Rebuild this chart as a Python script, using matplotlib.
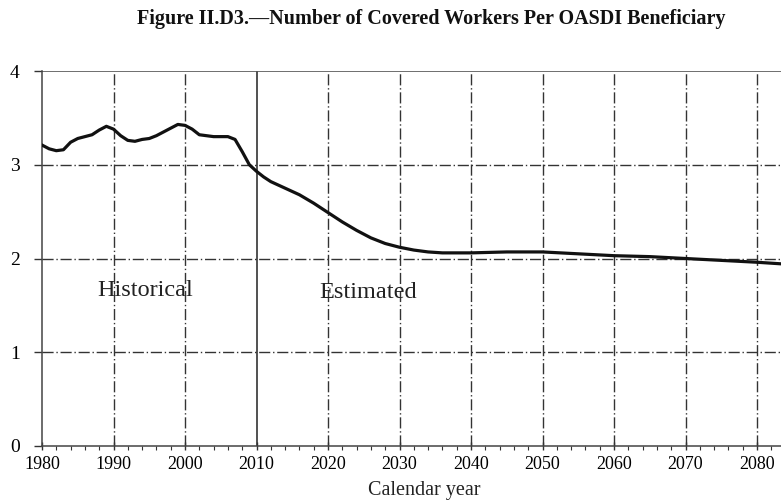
import matplotlib.pyplot as plt
from matplotlib.ticker import MultipleLocator

# datos
years = [1980, 1981, 1982, 1983, 1984, 1985, 1986, 1987, 1988, 1989, 1990,
         1991, 1992, 1993, 1994, 1995, 1996, 1997, 1998, 1999, 2000,
         2001, 2002, 2003, 2004, 2005, 2006, 2007, 2008, 2009, 2010,
         2011, 2012, 2014, 2016, 2018, 2020, 2022, 2024, 2026, 2028, 2030,
         2032, 2034, 2036, 2040, 2045, 2050, 2055, 2060, 2065, 2070,
         2075, 2080, 2084]
ratio = [3.21, 3.17, 3.15, 3.16, 3.24, 3.28, 3.30, 3.32, 3.37, 3.41, 3.38,
         3.31, 3.26, 3.25, 3.27, 3.28, 3.31, 3.35, 3.39, 3.43, 3.42,
         3.38, 3.32, 3.31, 3.30, 3.30, 3.30, 3.27, 3.14, 3.00, 2.93,
         2.87, 2.82, 2.75, 2.68, 2.59, 2.49, 2.39, 2.30, 2.22, 2.16, 2.12,
         2.09, 2.07, 2.06, 2.06, 2.07, 2.07, 2.05, 2.03, 2.02, 2.00,
         1.98, 1.96, 1.94]

x_ticks = list(range(1980, 2090, 10))
y_ticks = [0, 1, 2, 3, 4]

plt.rcParams["font.family"] = ["Liberation Serif", "DejaVu Serif"]

fig = plt.figure(figsize=(7.81, 5.0), dpi=100)
ax = fig.add_axes([42 / 781, 1 - 446 / 500, 739 / 781, 375 / 500])

# rejilla punto-raya
for yv in y_ticks[1:4]:
  ax.axhline(yv, color="#333333", lw=1.0, ls=(0, (8, 2, 1, 2)), zorder=1)
for xv in x_ticks[1:]:
  if xv == 2010:
    ax.axvline(xv, color="#222222", lw=1.1, zorder=1)
  else:
    ax.axvline(xv, color="#333333", lw=1.0, ls=(0, (8, 2, 1, 2)), zorder=1)
ax.axhline(4, color="#555555", lw=1.2, zorder=1)

ax.plot(years, ratio, color="#111111", lw=2.3, zorder=3)

ax.set_xlim(1980, 1980 + 739 / 7.15)
ax.set_ylim(0, 4)
ax.set_xticks(x_ticks)
ax.set_yticks(y_ticks)
ax.xaxis.set_minor_locator(MultipleLocator(2))
ax.tick_params(axis="x", which="major", length=6, width=1, direction="inout",
               labelsize=13, pad=4, color="#333333")
ax.tick_params(axis="x", which="minor", length=3, width=0.8, direction="out",
               color="#333333")
ax.tick_params(axis="y", length=6, width=1, direction="out", labelsize=14,
               pad=10, color="#333333")
for s in ["top", "right"]:
  ax.spines[s].set_visible(False)
for s in ["left", "bottom"]:
  ax.spines[s].set_color("#444444")
  ax.spines[s].set_linewidth(1.1)

ax.text(1994.4, 1.66, "Historical", fontsize=17.5, ha="center", va="center",
        color="#222222")
ax.text(2025.6, 1.64, "Estimated", fontsize=17.5, ha="center", va="center",
        color="#222222")

fig.text(431 / 781, 1 - 19 / 500, "Figure II.D3.\u2014Number of Covered Workers Per OASDI Beneficiary",
         fontsize=14.5, fontweight="bold", ha="center", va="center", color="#111111")
fig.text(424 / 781, 1 - 491 / 500, "Calendar year", fontsize=14.5, ha="center",
         va="center", color="#222222")

plt.savefig("out.png", dpi=100)
plt.close()
